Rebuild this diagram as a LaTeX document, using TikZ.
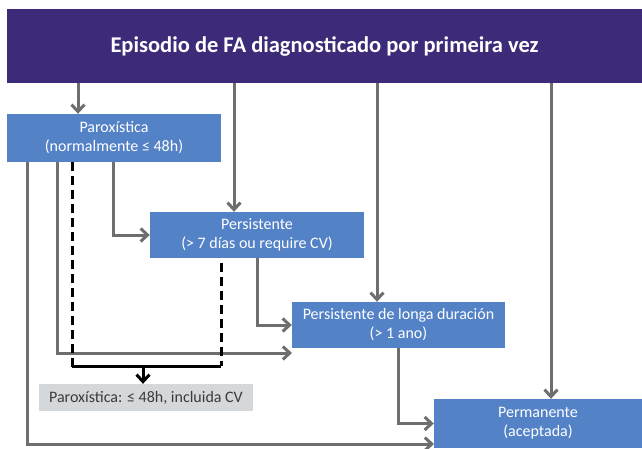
\documentclass[tikz,border=0pt]{standalone}
\usepackage{fontspec}
\setmainfont{Carlito}
\usetikzlibrary{arrows.meta,calc}
\definecolor{hdr}{HTML}{3D2A78}
\definecolor{bx}{HTML}{5482C7}
\definecolor{gbx}{HTML}{D5D8DB}
\definecolor{ln}{HTML}{6E6E6E}
\definecolor{gtxt}{HTML}{3A3A3A}
\tikzset{
  bluebox/.style={fill=bx, text=white, inner sep=0pt, align=center,
    font=\fontsize{16}{19}\selectfont},
  greybox/.style={fill=gbx, text=gtxt, inner sep=0pt, align=center,
    font=\fontsize{16}{19}\selectfont},
  arr/.style={draw=ln, line width=3pt, -{Straight Barb[length=7pt,width=13pt,line width=3pt]}},
  blk/.style={draw=black, line width=3pt},
  blkdash/.style={draw=black, line width=3pt, dash pattern=on 9pt off 5pt},
  blkarr/.style={draw=black, line width=3pt, -{Straight Barb[length=7pt,width=13pt,line width=3pt]}}
}
\begin{document}
\begin{tikzpicture}[x=1pt,y=-1pt]
\useasboundingbox (0,0) rectangle (642,448);
\fill[white] (0,0) rectangle (642,448);
% boxes
\node[fill=hdr, text=white, inner sep=0pt, minimum width=635pt, minimum height=74pt,
  font=\fontsize{22.5}{26}\selectfont\bfseries] (head) at (324.5,46) {Episodio de FA diagnosticado por primeira vez};
\node[bluebox, minimum width=214pt, minimum height=48pt] (parox) at (114,138) {Paroxística\\(normalmente ≤ 48h)};
\node[bluebox, minimum width=214pt, minimum height=46pt] (pers) at (257,235) {Persistente\\(> 7 días ou require CV)};
\node[bluebox, minimum width=213pt, minimum height=46pt] (pld) at (398.5,325) {Persistente de longa duración\\(> 1 ano)};
\node[bluebox, minimum width=208pt, minimum height=49pt] (perm) at (538,423.5) {Permanente\\(aceptada)};
\node[greybox, minimum width=214pt, minimum height=27pt] (grey) at (146,397.5) {Paroxística: ≤ 48h, incluida CV};
% helper coordinates
\coordinate (c78) at (78,0);
\coordinate (c234) at (234,0);
\coordinate (c377) at (377,0);
\coordinate (c551) at (551,0);
\coordinate (c113) at (113,0);
\coordinate (c57) at (57,0);
\coordinate (c27) at (27,0);
\coordinate (c72) at (72,0);
\coordinate (c143) at (143,0);
\coordinate (c257) at (257,0);
\coordinate (c398) at (398,0);
\coordinate (e6) at (292,353);
\coordinate (e7) at (434,444);
\coordinate (dl) at (72,372);
\coordinate (dr0) at (221,263);
\coordinate (hl) at (72,366);
\coordinate (hr) at (221,366);
% from header
\draw[arr] (head.south -| c78) -- (parox.north -| c78);
\draw[arr] (head.south -| c234) -- (pers.north -| c234);
\draw[arr] (head.south -| c377) -- (pld.north -| c377);
\draw[arr] (head.south -| c551) -- (perm.north -| c551);
% from paroxistica
\draw[arr] (parox.south -| c113) |- (pers.west);
\draw[arr] (parox.south -| c57) |- (e6);
\draw[arr] (parox.south -| c27) |- (e7);
% chain
\draw[arr] (pers.south -| c257) |- (pld.west);
\draw[arr] (pld.south -| c398) |- (perm.west);
% dashed reclassification
\draw[blkdash] (parox.south -| c72) -- (dl);
\draw[blkdash] (dr0) -- (hr);
\draw[blk] (hl) -- (hr);
\draw[blkarr] (hl -| c143) -- (grey.north -| c143);
\end{tikzpicture}
\end{document}
